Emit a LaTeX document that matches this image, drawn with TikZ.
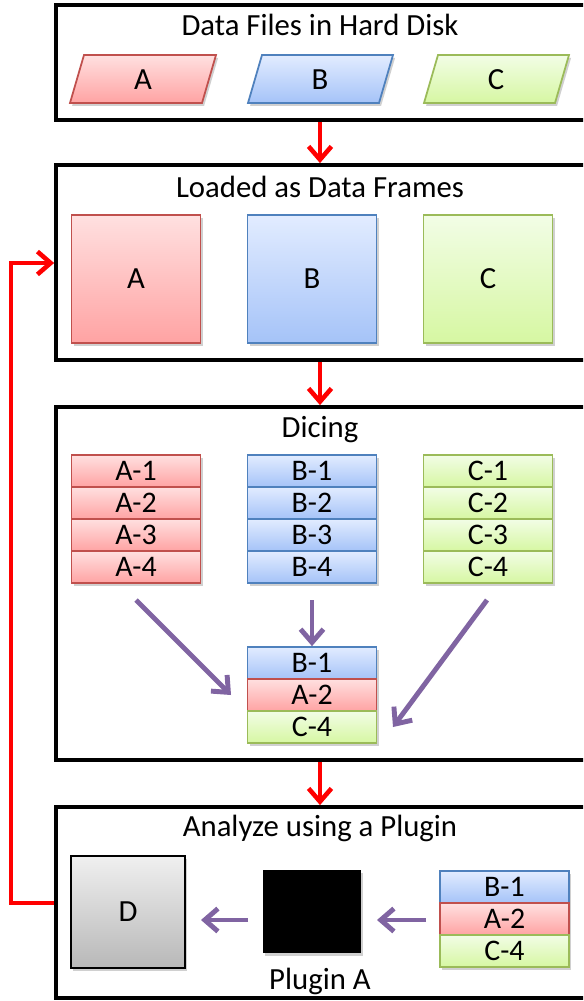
\documentclass[tikz,border=0pt]{standalone}
\usepackage{fontspec}
\setmainfont{Carlito}
\usetikzlibrary{arrows.meta,shadows}
\definecolor{redB}{HTML}{C0504D}
\definecolor{redT}{HTML}{FFE0E0}
\definecolor{redD}{HTML}{FFA3A3}
\definecolor{bluB}{HTML}{4F81BD}
\definecolor{bluT}{HTML}{E2ECFF}
\definecolor{bluD}{HTML}{A5C3F8}
\definecolor{grnB}{HTML}{9BBB59}
\definecolor{grnT}{HTML}{F2FDE6}
\definecolor{grnD}{HTML}{D6F7A2}
\definecolor{purp}{HTML}{8064A2}
\definecolor{redarr}{HTML}{FF0000}
\tikzset{
  container/.style={draw=black,line width=2.2pt,fill=white,inner sep=0pt},
  title/.style={font=\fontsize{17.5}{19}\selectfont,inner sep=0pt},
  lbl/.style={font=\fontsize{17.5}{19}\selectfont,inner sep=0pt},
  shd/.style={drop shadow={shadow xshift=1.2pt,shadow yshift=-1.6pt,opacity=0.3,fill=black!60}},
  redfill/.style={draw=redB,line width=1pt,top color=redT,bottom color=redD},
  blufill/.style={draw=bluB,line width=1pt,top color=bluT,bottom color=bluD},
  grnfill/.style={draw=grnB,line width=1pt,top color=grnT,bottom color=grnD},
  frame/.style={minimum width=2.58cm,minimum height=2.56cm,inner sep=0pt,font=\fontsize{17.5}{19}\selectfont,shd},
  row/.style={minimum width=2.58cm,minimum height=0.64cm,inner sep=0pt,font=\fontsize{17}{18}\selectfont,shd},
  redarrow/.style={draw=redarr,line width=2.6pt,-{Straight Barb[length=7.5pt,width=13pt]}},
  purparrow/.style={draw=purp,line width=2.8pt,-{Straight Barb[length=7.5pt,width=13pt]}},
}
\begin{document}
\begin{tikzpicture}[x=0.02cm,y=-0.02cm]
\useasboundingbox (0,0) rectangle (583,1001);
\clip (0,0) rectangle (583,1001);
% containers
\node[container,minimum width=10.88cm,minimum height=2.3cm] (box1) at (328,62.5) {};
\node[container,minimum width=10.88cm,minimum height=3.9cm] (box2) at (328,262.5) {};
\node[container,minimum width=10.88cm,minimum height=7.06cm] (box3) at (328,583.5) {};
\node[container,minimum width=10.88cm,minimum height=3.82cm] (box4) at (328,902.5) {};
% titles
\node[title] (t1) at (320,25) {Data Files in Hard Disk};
\node[title] (t2) at (320,187) {Loaded as Data Frames};
\node[title] (t3) at (320,430) {Dicing};
\node[title] (t4) at (320,828) {Analyze using a Plugin};
% files (parallelograms)
\shade[redfill,shd] (70,103) -- (84,55) -- (216,55) -- (202,103) -- cycle;
\shade[blufill,shd] (248,103) -- (262,55) -- (393,55) -- (379,103) -- cycle;
\shade[grnfill,shd] (424,103) -- (438,55) -- (569,55) -- (555,103) -- cycle;
\node[lbl] (fA) at (143,80) {A};
\node[lbl] (fB) at (320,80) {B};
\node[lbl] (fC) at (496,80) {C};
% data frames
\node[frame,redfill] (dA) at (136,279) {A};
\node[frame,blufill] (dB) at (312,279) {B};
\node[frame,grnfill] (dC) at (488,279) {C};
% dicing stacks
\foreach \i/\y in {1/471,2/503,3/535,4/567}{
  \node[row,redfill] (A\i) at (136,\y) {A-\i};
  \node[row,blufill] (B\i) at (312,\y) {B-\i};
  \node[row,grnfill] (C\i) at (488,\y) {C-\i};
}
% merged stack
\node[row,blufill] (mB) at (312,663) {B-1};
\node[row,redfill] (mA) at (312,695) {A-2};
\node[row,grnfill] (mC) at (312,727) {C-4};
\coordinate (sA) at (136,600);
\coordinate (sB) at (312,600);
\coordinate (sC) at (487,600);
\coordinate (eA) at (231,695);
\coordinate (eC) at (393,727);
\draw[purparrow] (sA) -- (eA);
\draw[purparrow] (sB) -- (mB.north);
\draw[purparrow] (sC) -- (eC);
% analyze
\node[minimum width=2.28cm,minimum height=2.24cm,inner sep=0pt,draw=black,line width=1pt,top color=black!6,bottom color=black!28,font=\fontsize{17.5}{19}\selectfont,shd] (D) at (128,912) {D};
\node[minimum width=1.96cm,minimum height=1.66cm,inner sep=0pt,fill=black,shd] (plug) at (312,911.5) {};
\node[title] (plugl) at (320,981) {Plugin A};
\node[row,blufill] (pB) at (504.5,887) {B-1};
\node[row,redfill] (pA) at (504.5,919) {A-2};
\node[row,grnfill] (pC) at (504.5,951) {C-4};
\coordinate (p1s) at (426,920);
\coordinate (p1e) at (377,920);
\coordinate (p2s) at (248,920);
\coordinate (p2e) at (201,920);
\draw[purparrow] (p1s) -- (p1e);
\draw[purparrow] (p2s) -- (p2e);
% red arrows between stages
\draw[redarrow] (box1.south -| t1) -- (box2.north -| t1);
\draw[redarrow] (box2.south -| t1) -- (box3.north -| t1);
\draw[redarrow] (box3.south -| t1) -- (box4.north -| t1);
% feedback
\coordinate (fb1) at (11,903);
\coordinate (fb2) at (11,263);
\draw[redarrow,line join=miter] (box4.west |- fb1) -- (fb1) -- (fb2) -- (box2.west |- fb2);
\end{tikzpicture}
\end{document}
